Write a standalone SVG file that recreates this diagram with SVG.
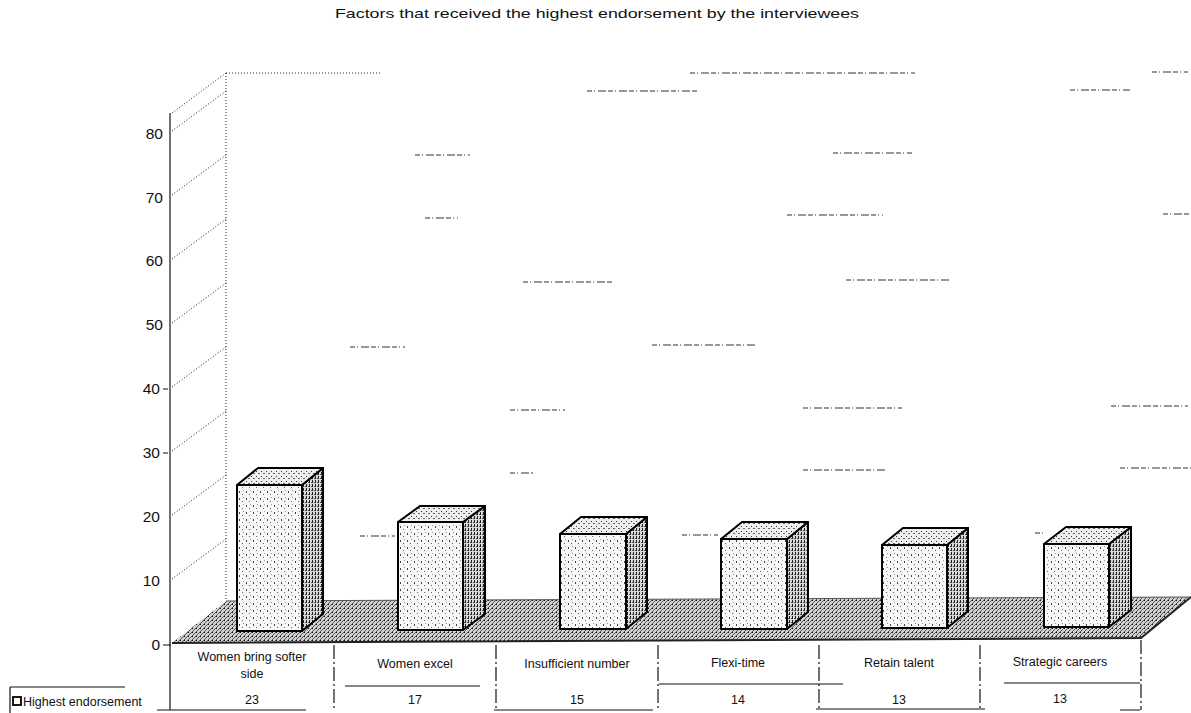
<svg xmlns="http://www.w3.org/2000/svg" width="1191" height="713" viewBox="0 0 1191 713">
<style>
text{font-family:"Liberation Sans",Arial,sans-serif;fill:#111}
.t{font-size:12.5px;text-anchor:middle}
.tick{font-size:15.5px;text-anchor:end}
.dot{stroke:#222;stroke-width:1;stroke-dasharray:1 2;fill:none}
.frag{stroke:#333;stroke-width:1.2;fill:none;stroke-dasharray:5 2 1 3 8 2}
.line{stroke:#111;stroke-width:1.2;fill:none}
.face{stroke:#000;stroke-width:2;stroke-linejoin:round}
</style>
<defs>
<pattern id="pf" width="7" height="7" patternUnits="userSpaceOnUse">
<rect width="7" height="7" fill="#f8f8f8"/>
<rect x="1" y="1" width="1" height="2" fill="#444"/>
<rect x="4" y="4" width="1" height="1" fill="#666"/>
<rect x="5" y="0" width="1" height="1" fill="#999"/>
</pattern>
<pattern id="pt" width="5" height="5" patternUnits="userSpaceOnUse">
<rect width="5" height="5" fill="#eee"/>
<rect x="1" y="1" width="1" height="1" fill="#333"/>
<rect x="3" y="3" width="2" height="1" fill="#666"/>
</pattern>
<pattern id="ps" width="3" height="4" patternUnits="userSpaceOnUse">
<rect width="3" height="4" fill="#d8d8d8"/>
<rect x="0" y="0" width="1" height="3" fill="#222"/>
<rect x="2" y="2" width="1" height="1" fill="#555"/>
</pattern>
<pattern id="pfl" width="4" height="4" patternUnits="userSpaceOnUse">
<rect width="4" height="4" fill="#d2d2d2"/>
<path d="M0 4L4 0" stroke="#444" stroke-width="0.9"/>
<rect x="0" y="0" width="1" height="1" fill="#111"/>
</pattern>
</defs>
<rect width="1191" height="713" fill="#fff"/>

<text x="597" y="18" style="font-size:13.5px;text-anchor:middle" textLength="524" lengthAdjust="spacingAndGlyphs">Factors that received the highest endorsement by the interviewees</text>

<g id="walls">
<line class="dot" x1="226" y1="73" x2="226" y2="601"/>
<line class="dot" x1="226" y1="73" x2="380" y2="73"/>
<line class="dot" x1="172" y1="113" x2="226" y2="73"/>
<line class="dot" x1="172" y1="131" x2="226" y2="91"/>
<line class="dot" x1="172" y1="195" x2="226" y2="155"/>
<line class="dot" x1="172" y1="259" x2="226" y2="219"/>
<line class="dot" x1="172" y1="323" x2="226" y2="283"/>
<line class="dot" x1="172" y1="387" x2="226" y2="347"/>
<line class="dot" x1="172" y1="451" x2="226" y2="411"/>
<line class="dot" x1="172" y1="515" x2="226" y2="475"/>
<line class="dot" x1="172" y1="579" x2="226" y2="539"/>
</g>

<g id="fragments">
<path class="frag" d="M690 73H915M1152 72H1188M587 91H697M1070 90H1130M833 153H912M415 155H470M787 215H883M1163 214H1191M425 218H458M846 280H951M523 282H612M652 345H757M350 347H405M803 408H902M1111 406H1188M510 410H565M803 470H887M1120 468H1191M510 473H533M360 536H395M682 535H718M1035 533H1046"/>
</g>

<g id="axis">
<line class="line" x1="170" y1="113" x2="170" y2="710"/>
<text class="tick" x="163" y="139">80</text>
<text class="tick" x="163" y="203">70</text>
<text class="tick" x="163" y="266">60</text>
<text class="tick" x="163" y="330">50</text>
<text class="tick" x="160" y="394">40</text>
<text class="tick" x="160" y="458">30</text>
<text class="tick" x="160" y="522">20</text>
<text class="tick" x="160" y="586">10</text>
<text class="tick" x="160" y="650">0</text>
<path class="line" d="M163 389H168M163 453H168M163 645H171"/>
</g>

<g id="floor">
<polygon points="172,643 226,601 1191,597 1141,638" fill="url(#pfl)"/>
<path d="M172 643L1141 638L1191 597" stroke="#222" stroke-width="2" fill="none"/>
<path d="M226 601L1191 597" stroke="#555" stroke-width="1" fill="none"/>
</g>

<g id="bar1">
<polygon class="face" points="302,485 323,468 323,614 302,631" fill="url(#ps)"/>
<polygon class="face" points="237,485 258,468 323,468 302,485" fill="url(#pt)"/>
<rect class="face" x="237" y="485" width="65" height="146" fill="url(#pf)"/>
</g>
<g id="bar2">
<polygon class="face" points="463,522 485,506 485,614 463,630" fill="url(#ps)"/>
<polygon class="face" points="398,522 420,506 485,506 463,522" fill="url(#pt)"/>
<rect class="face" x="398" y="522" width="65" height="108" fill="url(#pf)"/>
</g>
<g id="bar3">
<polygon class="face" points="626,534 647,517 647,612 626,629" fill="url(#ps)"/>
<polygon class="face" points="560,534 581,517 647,517 626,534" fill="url(#pt)"/>
<rect class="face" x="560" y="534" width="66" height="95" fill="url(#pf)"/>
</g>
<g id="bar4">
<polygon class="face" points="787,539 808,522 808,612 787,629" fill="url(#ps)"/>
<polygon class="face" points="721,539 742,522 808,522 787,539" fill="url(#pt)"/>
<rect class="face" x="721" y="539" width="66" height="90" fill="url(#pf)"/>
</g>
<g id="bar5">
<polygon class="face" points="947,545 968,528 968,611 947,628" fill="url(#ps)"/>
<polygon class="face" points="882,545 903,528 968,528 947,545" fill="url(#pt)"/>
<rect class="face" x="882" y="545" width="65" height="83" fill="url(#pf)"/>
</g>
<g id="bar6">
<polygon class="face" points="1109,544 1131,527 1131,610 1109,627" fill="url(#ps)"/>
<polygon class="face" points="1044,544 1066,527 1131,527 1109,544" fill="url(#pt)"/>
<rect class="face" x="1044" y="544" width="65" height="83" fill="url(#pf)"/>
</g>

<g id="table">
<path class="line" d="M334 645V710M496 645V710M658 645V710M819 645V710M980 645V710M1141 640V710" stroke-dasharray="14 3 2 3"/>
<path class="line" d="M345 686H480M659 684H843M1004 683H1140M10 687H125M10 687V713"/>
<path class="line" d="M157 710H306M494 710H653M816 709H985M1120 710H1140"/>
<text class="t" x="252" y="661">Women bring softer</text>
<text class="t" x="252" y="678">side</text>
<text class="t" x="415" y="668">Women excel</text>
<text class="t" x="577" y="668">Insufficient number</text>
<text class="t" x="738" y="667">Flexi-time</text>
<text class="t" x="899" y="667">Retain talent</text>
<text class="t" x="1060" y="666">Strategic careers</text>
<rect x="13" y="697" width="8" height="8" fill="#fff" stroke="#000" stroke-width="1.8"/>
<text x="23" y="706" style="font-size:12.5px">Highest endorsement</text>
<text class="t" x="252" y="704">23</text>
<text class="t" x="415" y="704">17</text>
<text class="t" x="577" y="704">15</text>
<text class="t" x="738" y="704">14</text>
<text class="t" x="899" y="704">13</text>
<text class="t" x="1060" y="703">13</text>
</g>
</svg>
